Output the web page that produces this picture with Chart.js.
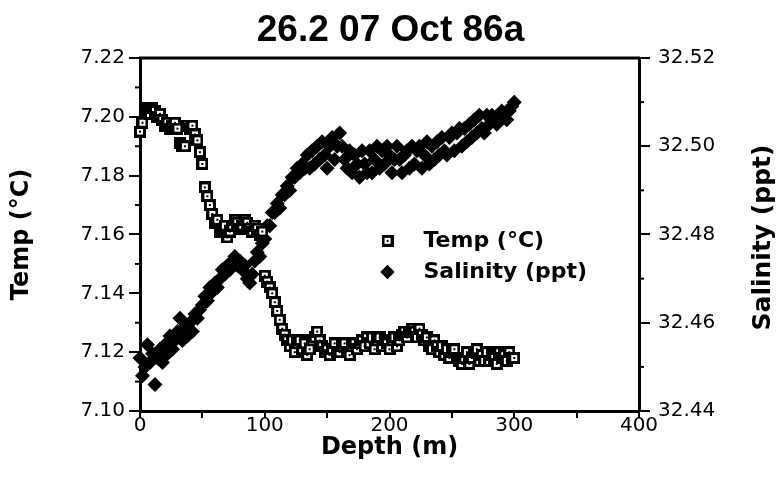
<!DOCTYPE html>
<html><head><meta charset="utf-8">
<script src="https://cdn.jsdelivr.net/npm/chart.js@4/dist/chart.umd.min.js"></script>
<style>html,body{margin:0;padding:0;background:#fff;}#wrap{width:781px;height:496px;}</style>
</head><body><div id="wrap"><canvas id="c" width="781" height="496"></canvas></div>
<script>
const chartTitle = '26.2 07 Oct 86a';
const xTitle = 'Depth (m)';
const tempLabel = 'Temp (°C)';
const salLabel = 'Salinity (ppt)';

const depth = [0,2,4,6,8,10,12,14,16,18,
  20,22,24,26,28,30,32,34,36,38,
  40,42,44,46,48,50,52,54,56,58,
  60,62,64,66,68,70,72,74,76,78,
  80,82,84,86,88,90,92,94,96,98,
  100,102,104,106,108,110,112,114,116,118,
  120,122,124,126,128,130,132,134,136,138,
  140,142,144,146,148,150,152,154,156,158,
  160,162,164,166,168,170,172,174,176,178,
  180,182,184,186,188,190,192,194,196,198,
  200,202,204,206,208,210,212,214,216,218,
  220,222,224,226,228,230,232,234,236,238,
  240,242,244,246,248,250,252,254,256,258,
  260,262,264,266,268,270,272,274,276,278,
  280,282,284,286,288,290,292,294,296,298,
  300];

const temp = [7.195,7.198,7.203,7.202,7.201,7.203,7.202,7.200,7.201,7.199,
  7.197,7.198,7.196,7.197,7.198,7.196,7.191,7.190,7.190,7.197,
  7.196,7.197,7.194,7.192,7.188,7.184,7.176,7.173,7.170,7.167,
  7.164,7.165,7.161,7.162,7.163,7.159,7.161,7.163,7.165,7.164,
  7.162,7.163,7.165,7.164,7.162,7.161,7.163,7.162,7.160,7.161,
  7.146,7.144,7.142,7.140,7.137,7.134,7.131,7.128,7.126,7.124,
  7.122,7.124,7.120,7.123,7.124,7.121,7.123,7.119,7.121,7.124,
  7.125,7.127,7.124,7.122,7.120,7.121,7.119,7.121,7.123,7.120,
  7.120,7.122,7.123,7.120,7.119,7.122,7.123,7.121,7.123,7.124,
  7.122,7.125,7.123,7.125,7.121,7.124,7.125,7.122,7.124,7.123,
  7.121,7.124,7.125,7.122,7.124,7.126,7.127,7.125,7.127,7.128,
  7.127,7.125,7.128,7.126,7.124,7.125,7.122,7.121,7.124,7.122,
  7.120,7.122,7.119,7.121,7.118,7.120,7.121,7.118,7.117,7.116,
  7.118,7.120,7.116,7.118,7.120,7.121,7.117,7.119,7.117,7.120,
  7.117,7.119,7.118,7.116,7.120,7.118,7.119,7.117,7.120,7.118,
  7.118];

const salinity = [32.452,32.448,32.450,32.455,32.451,32.453,32.446,32.452,32.454,32.451,
  32.455,32.453,32.457,32.454,32.456,32.458,32.461,32.456,32.459,32.457,
  32.460,32.458,32.462,32.461,32.463,32.464,32.466,32.465,32.468,32.467,
  32.469,32.468,32.470,32.472,32.471,32.473,32.472,32.474,32.475,32.473,
  32.474,32.472,32.473,32.470,32.469,32.471,32.474,32.476,32.475,32.478,
  32.479,32.482,32.482,32.485,32.485,32.487,32.486,32.489,32.489,32.491,
  32.490,32.493,32.493,32.495,32.494,32.496,32.495,32.498,32.495,32.499,
  32.496,32.500,32.497,32.501,32.498,32.495,32.500,32.502,32.497,32.500,
  32.503,32.500,32.497,32.495,32.499,32.494,32.498,32.496,32.493,32.499,
  32.496,32.494,32.499,32.494,32.497,32.500,32.495,32.499,32.496,32.500,
  32.498,32.494,32.497,32.500,32.497,32.494,32.498,32.499,32.495,32.500,
  32.496,32.499,32.500,32.495,32.498,32.501,32.496,32.500,32.497,32.501,
  32.498,32.502,32.499,32.498,32.502,32.503,32.499,32.503,32.504,32.500,
  32.504,32.501,32.505,32.502,32.506,32.503,32.507,32.504,32.503,32.507,
  32.505,32.507,32.506,32.505,32.507,32.508,32.507,32.506,32.508,32.509,
  32.510];

const tempMinorTicks = [7.11,7.13,7.15,7.17,7.19,7.21];
const salMinorTicks = [32.45,32.47,32.49,32.51];

function squareMarker(){
  const c = document.createElement('canvas');
  c.width = 12; c.height = 12;
  const g = c.getContext('2d');
  g.fillStyle = '#000'; g.fillRect(0,0,12,12);
  g.fillStyle = '#fff'; g.fillRect(3,3,6,6);
  g.fillStyle = '#000'; g.fillRect(5,5,2,2);
  return c;
}
const sq = squareMarker();

const TICK_FONT = {family:'DejaVu Sans', size:20};
const AXIS_TITLE_FONT = {family:'DejaVu Sans', size:24, weight:'bold'};

const decorPlugin = {
  id:'decor',
  afterDraw(chart){
    const ctx = chart.ctx, a = chart.chartArea;
    const y = chart.scales.y, y2 = chart.scales.y2;
    ctx.save();
    ctx.strokeStyle = '#000';
    ctx.lineWidth = 3;
    ctx.beginPath(); ctx.moveTo(a.left-1, a.top); ctx.lineTo(a.right+1, a.top); ctx.stroke();
    ctx.lineWidth = 2;
    tempMinorTicks.forEach(v => {
      const p = y.getPixelForValue(v);
      ctx.beginPath(); ctx.moveTo(a.left-5, p); ctx.lineTo(a.left+1, p); ctx.stroke();
    });
    salMinorTicks.forEach(v => {
      const p = y2.getPixelForValue(v);
      ctx.beginPath(); ctx.moveTo(a.right-1, p); ctx.lineTo(a.right+5, p); ctx.stroke();
    });
    ctx.fillStyle = '#000';
    ctx.font = 'bold 25px "DejaVu Sans"';
    ctx.textAlign = 'center'; ctx.textBaseline = 'middle';
    ctx.translate(763, (a.top + a.bottom)/2 + 3);
    ctx.rotate(-Math.PI/2);
    ctx.fillText(salLabel, 0, 0);
    ctx.restore();

    ctx.save();
    const lx = a.left + (a.right - a.left) * 0.496;
    const ly1 = a.top + (a.bottom - a.top) * 0.518;
    const ly2 = a.top + (a.bottom - a.top) * 0.606;
    Chart.helpers.drawPoint(ctx, {pointStyle: sq, radius: 6, rotation: 0}, lx, ly1);
    ctx.fillStyle = '#000'; ctx.strokeStyle = '#000';
    Chart.helpers.drawPoint(ctx, {pointStyle: 'rectRot', radius: 7, rotation: 0, borderWidth: 0}, lx, ly2);
    ctx.fill();
    ctx.font = 'bold 22px "DejaVu Sans"';
    ctx.textAlign = 'left'; ctx.textBaseline = 'middle';
    ctx.fillText(tempLabel, lx + 36, ly1);
    ctx.fillText(salLabel, lx + 36, ly2);
    ctx.restore();
  }
};

new Chart(document.getElementById('c'), {
  type:'scatter',
  data:{
    datasets:[
      {label: tempLabel, data: depth.map((d,i)=>({x:d, y:temp[i]})), yAxisID:'y',
       pointStyle: sq, pointRadius:6, showLine:false, clip:false},
      {label: salLabel, data: depth.map((d,i)=>({x:d, y:salinity[i]})), yAxisID:'y2',
       pointStyle:'rectRot', pointRadius:7.5, backgroundColor:'#000', borderColor:'#000', borderWidth:0,
       showLine:false, clip:false}
    ]
  },
  options:{
    responsive:false, animation:false, devicePixelRatio:1,
    layout:{padding:0},
    plugins:{
      legend:{display:false}, tooltip:{enabled:false},
      title:{display:true, text:chartTitle, color:'#000',
        font:{family:'Liberation Sans', size:37, weight:'bold', lineHeight:1},
        padding:{top:12, bottom:9}}
    },
    scales:{
      x:{type:'linear', min:0, max:400,
        ticks:{stepSize:50, autoSkip:false, maxRotation:0, color:'#000', font:TICK_FONT, padding:-4,
          callback: v => (v % 100 === 0 ? String(v) : '')},
        grid:{drawOnChartArea:false, drawTicks:true, tickLength:7, color:'#000', lineWidth:2},
        border:{color:'#000', width:3},
        title:{display:true, text:xTitle, color:'#000', font:AXIS_TITLE_FONT, padding:{top:0, bottom:34}},
        afterFit: s => { s.height = 85; }
      },
      y:{type:'linear', position:'left', min:7.10, max:7.22,
        ticks:{stepSize:0.02, color:'#000', font:TICK_FONT, padding:4, callback: v => Number(v).toFixed(2)},
        grid:{drawOnChartArea:false, drawTicks:true, tickLength:11, color:'#000', lineWidth:2},
        border:{color:'#000', width:3},
        title:{display:true, text:tempLabel, color:'#000', font:AXIS_TITLE_FONT, padding:{top:7, bottom:0}},
        afterFit: s => { s.width = 140; }
      },
      y2:{type:'linear', position:'right', min:32.44, max:32.52,
        ticks:{stepSize:0.02, color:'#000', font:TICK_FONT, padding:8, callback: v => Number(v).toFixed(2)},
        grid:{drawOnChartArea:false, drawTicks:true, tickLength:11, color:'#000', lineWidth:2},
        border:{color:'#000', width:3},
        afterFit: s => { s.width = 142; }
      }
    }
  },
  plugins:[decorPlugin]
});
</script>
</body></html>
